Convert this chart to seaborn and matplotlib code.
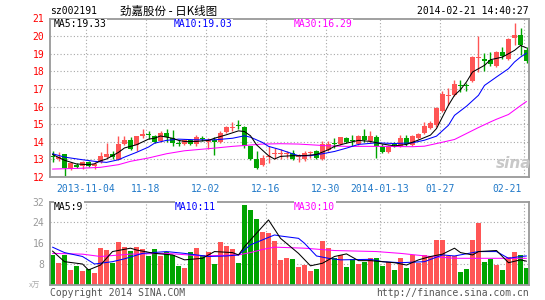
import numpy as np
import matplotlib
matplotlib.use("Agg")
import matplotlib.pyplot as plt
import seaborn as sns
from matplotlib.transforms import ScaledTranslation

# ---------------- data ----------------
opens = [13.20, 13.02, 13.30, 12.45, 12.70, 12.62, 12.85, 12.65, 12.85, 13.15,
         13.30, 12.98, 13.85, 14.10, 13.80, 14.30, 14.42, 14.35, 14.05, 14.50,
         14.20, 13.88, 13.90, 14.08, 13.85, 14.22, 13.98, 14.08, 13.98, 14.55,
         14.80, 14.95, 14.85, 13.75, 13.00, 12.70, 13.12, 13.30, 13.30, 13.30,
         13.35, 13.15, 13.02, 13.35, 13.48, 13.02, 13.55, 13.90, 13.90, 14.22,
         14.12, 13.85, 14.35, 14.05, 14.28, 13.72, 13.43, 13.90, 13.75, 14.22,
         13.80, 14.20, 14.50, 14.80, 14.95, 15.75, 16.60, 16.65, 17.22, 17.20,
         17.43, 18.77, 18.72, 18.66, 18.28, 19.10, 18.72, 19.90, 20.04, 19.23]
highs = [13.45, 13.40, 13.32, 12.88, 12.78, 12.92, 12.92, 12.88, 13.42, 13.95,
         13.45, 14.35, 14.35, 14.25, 14.35, 14.75, 14.60, 14.40, 14.60, 14.75,
         14.65, 14.10, 14.15, 14.15, 14.40, 14.35, 14.20, 14.28, 14.60, 14.92,
         15.10, 15.25, 14.92, 13.78, 13.45, 13.27, 13.75, 13.65, 13.60, 13.45,
         13.55, 13.28, 13.45, 13.48, 13.55, 14.05, 14.03, 14.22, 14.28, 14.28,
         14.40, 14.40, 14.72, 14.60, 14.40, 13.90, 13.80, 14.00, 14.38, 14.38,
         14.36, 14.50, 15.13, 15.20, 15.95, 16.90, 17.08, 17.53, 17.50, 17.35,
         18.85, 20.00, 19.04, 19.10, 19.15, 19.38, 19.90, 20.74, 20.47, 19.38]
lows = [12.85, 12.92, 12.05, 12.38, 12.52, 12.45, 12.57, 12.45, 12.80, 13.10,
        13.00, 12.95, 13.80, 13.55, 13.45, 14.20, 14.15, 13.95, 14.00, 14.00,
        13.75, 13.75, 13.80, 13.80, 13.75, 14.05, 13.60, 13.27, 13.95, 14.50,
        14.60, 14.70, 13.65, 12.95, 12.45, 12.60, 12.80, 13.00, 13.02, 13.07,
        12.95, 12.85, 12.90, 13.10, 13.00, 12.95, 13.45, 13.65, 13.80, 13.93,
        13.75, 13.80, 14.00, 13.95, 13.08, 13.38, 13.38, 13.72, 13.72, 13.75,
        13.75, 14.15, 14.45, 14.75, 14.85, 15.70, 16.08, 16.60, 16.83, 16.90,
        17.40, 17.95, 18.00, 18.28, 18.25, 18.72, 18.66, 19.47, 18.90, 18.47]
closes = [13.15, 13.15, 12.50, 12.80, 12.55, 12.85, 12.62, 12.75, 13.20, 13.30,
          13.13, 13.90, 14.10, 13.60, 14.35, 14.45, 14.38, 14.00, 14.50, 14.25,
          13.95, 13.86, 14.08, 13.85, 14.25, 14.18, 14.08, 13.98, 14.50, 14.85,
          14.85, 14.88, 13.75, 13.00, 12.50, 13.08, 13.20, 13.35, 13.34, 13.35,
          13.02, 13.18, 13.35, 13.42, 13.08, 13.85, 13.90, 13.85, 14.28, 13.98,
          14.03, 14.35, 14.12, 14.35, 13.75, 13.43, 13.75, 13.82, 14.22, 13.90,
          14.30, 14.47, 14.88, 15.05, 15.90, 16.70, 16.65, 17.30, 17.16, 17.15,
          18.80, 18.82, 18.58, 18.43, 19.10, 18.85, 19.85, 20.04, 19.47, 18.58]
volumes = [11.4, 8.4, 11.4, 5.6, 7.2, 5.3, 6.0, 4.6, 14.2, 13.3,
           8.4, 16.2, 14.6, 12.9, 14.6, 13.6, 11.1, 13.8, 10.8, 12.7,
           11.4, 7.2, 6.5, 12.7, 14.2, 11.4, 12.7, 7.9, 16.2, 14.9,
           13.6, 8.4, 30.7, 28.8, 25.3, 20.4, 19.8, 16.9, 9.5, 10.1,
           9.7, 6.6, 7.5, 5.2, 6.0, 16.8, 14.0, 10.1, 11.4, 6.9,
           9.7, 7.9, 8.8, 10.1, 10.1, 7.2, 8.8, 5.6, 10.1, 6.5,
           11.4, 8.2, 11.4, 11.0, 17.2, 17.2, 10.8, 11.0, 5.0, 6.0,
           17.2, 23.6, 8.8, 9.7, 7.5, 5.6, 10.5, 12.7, 11.5, 6.5]

# moving averages (index of day, value)
ma5_x = [0, 2, 4, 6, 7, 8, 9, 11, 12, 14, 16, 17, 18, 20, 21, 22, 24, 26, 27, 29,
         31, 32, 33, 34, 36, 37, 38, 40, 42, 44, 46, 47, 49, 51, 53, 55, 57, 59, 61,
         63, 64, 65, 66, 67, 68, 69, 70, 72, 73, 75, 77, 78, 79]
ma5_y = [13.28, 12.95, 12.74, 12.70, 12.75, 12.92, 13.02, 13.40, 13.65, 13.83, 14.15,
         14.20, 14.33, 14.20, 14.08, 14.02, 14.02, 14.08, 14.20, 14.40, 14.62, 14.58,
         14.34, 13.83, 13.21, 13.02, 13.17, 13.21, 13.21, 13.28, 13.55, 13.74, 13.92,
         14.08, 14.02, 13.87, 13.77, 13.85, 14.10, 14.38, 14.75, 15.42, 16.08, 16.64,
         16.96, 17.40, 17.96, 18.34, 18.66, 18.81, 19.19, 19.47, 19.33]
ma10_x = [0, 2, 5, 7, 9, 11, 12, 14, 16, 17, 19, 21, 24, 27, 30, 32, 33, 35, 36, 38,
          40, 41, 43, 45, 47, 49, 51, 54, 57, 60, 62, 64, 66, 67, 69, 71, 72, 74, 76,
          77, 78, 79]
ma10_y = [13.32, 13.13, 12.98, 12.89, 12.83, 12.98, 13.13, 13.40, 13.70, 13.92, 14.08,
          14.15, 14.11, 14.11, 14.20, 14.34, 14.26, 13.96, 13.74, 13.55, 13.32, 13.21,
          13.21, 13.32, 13.45, 13.64, 13.85, 13.94, 13.90, 13.94, 14.09, 14.32, 14.94,
          15.50, 16.02, 16.64, 17.20, 17.68, 18.15, 18.53, 18.81, 19.03]
ma30_x = [0, 5, 8, 11, 13, 16, 19, 22, 25, 27, 30, 32, 35, 38, 41, 43, 46, 49, 55,
          60, 62, 64, 67, 69, 71, 73, 74, 76, 77, 78, 79]
ma30_y = [12.45, 12.50, 12.55, 12.70, 12.89, 13.08, 13.32, 13.49, 13.58, 13.64, 13.74,
          13.79, 13.87, 13.89, 13.87, 13.83, 13.77, 13.74, 13.74, 13.72, 13.75, 13.90,
          14.13, 14.47, 14.81, 15.13, 15.28, 15.55, 15.80, 16.05, 16.29]

vma5_x = [0, 2, 5, 6, 8, 10, 13, 14, 17, 20, 22, 25, 27, 30, 31, 32, 36, 38, 41,
          43, 45, 47, 49, 51, 53, 55, 57, 59, 61, 63, 65, 67, 68, 70, 71, 74, 76, 78, 79]
vma5_y = [12.9, 8.8, 7.9, 5.6, 7.5, 12.7, 14.0, 13.3, 12.0, 11.4, 9.5, 10.1, 12.7,
          12.3, 11.4, 14.6, 24.9, 17.8, 12.0, 7.2, 8.2, 10.8, 11.8, 9.2, 9.2, 8.8,
          8.4, 7.5, 9.5, 10.8, 11.7, 14.0, 12.3, 11.4, 12.7, 13.1, 8.4, 9.5, 9.0]
vma10_x = [0, 2, 5, 7, 10, 12, 15, 19, 22, 26, 29, 31, 33, 37, 38, 41, 42, 44, 46,
           48, 53, 55, 58, 62, 65, 67, 71, 74, 76, 78, 79]
vma10_y = [14.4, 12.3, 10.8, 7.9, 8.8, 9.9, 12.0, 12.7, 12.0, 10.8, 11.0, 11.4, 15.3,
           19.1, 18.7, 17.8, 15.9, 11.0, 10.1, 9.5, 9.7, 8.8, 8.4, 8.8, 11.4, 11.0,
           12.7, 12.7, 10.1, 10.8, 11.0]
vma30_x = [0, 5, 8, 13, 19, 25, 31, 33, 35, 37, 42, 47, 54, 58, 63, 67, 79]
vma30_y = [12.0, 11.7, 10.8, 11.7, 12.0, 11.0, 11.4, 12.3, 13.5, 14.4, 14.0, 13.1,
           12.7, 12.0, 10.8, 10.1, 10.1]

date_labels = ["2013-11-04", "11-18", "12-02", "12-16", "12-30", "2014-01-13", "01-27", "02-21"]
date_idx = [6, 16, 26, 36, 46, 55, 65, 79]
price_ticks = [12, 13, 14, 15, 16, 17, 18, 19, 20, 21]
vol_ticks = [8, 16, 24, 32]

# ---------------- style ----------------
RED = "#FF5555"
GREEN = "#00A400"
GRID = "#A8A8A8"
FRAME = "#999999"
DATE_C = "#1F78C8"

sns.set_style("white")
plt.rcParams["font.family"] = ["DejaVu Sans Mono", "Noto Sans CJK SC"]
FS = 7.0
CJK = ["Noto Sans CJK SC", "DejaVu Sans"]
LW = 0.75

W, H = 545, 300
fig = plt.figure(figsize=(W / 100, H / 100), dpi=100)
fig.patch.set_facecolor("white")


def fx(px):
    return px / W


def fy(py):
    return 1 - py / H


ax1 = fig.add_axes([fx(50), fy(177), fx(479), (177 - 18.5) / H])
ax2 = fig.add_axes([fx(50), fy(284.5), fx(479), (284.5 - 201.5) / H])

n = len(closes)
idx = np.arange(n)
o = np.array(opens); c = np.array(closes); hi = np.array(highs); lo = np.array(lows)
up = c >= o
cols = np.where(up, RED, GREEN)
xmin, xmax = -2.5 / 6, 476.5 / 6

# ---- candles ----
ax1.vlines(idx, lo, hi, colors=cols, lw=1.0, zorder=2)
body_h = np.maximum(np.abs(c - o), 0.06)
ax1.bar(idx, body_h, bottom=np.minimum(o, c), width=0.8, color=cols, linewidth=0, zorder=2)

sns.lineplot(x=ma30_x, y=ma30_y, color="#FF00FF", lw=LW, ax=ax1, zorder=3)
sns.lineplot(x=ma10_x, y=ma10_y, color="#0000FF", lw=LW, ax=ax1, zorder=3)
sns.lineplot(x=ma5_x, y=ma5_y, color="black", lw=LW, ax=ax1, zorder=4)

# ---- volume ----
updown = np.where(up, "up", "down")
sns.barplot(x=idx, y=volumes, hue=updown, palette={"up": RED, "down": GREEN},
            native_scale=True, dodge=False, width=0.83, legend=False, errorbar=None,
            saturation=1, linewidth=0, ax=ax2, zorder=2)
sns.lineplot(x=vma30_x, y=vma30_y, color="#FF00FF", lw=LW, ax=ax2, zorder=3)
sns.lineplot(x=vma10_x, y=vma10_y, color="#0000FF", lw=LW, ax=ax2, zorder=3)
sns.lineplot(x=vma5_x, y=vma5_y, color="black", lw=LW, ax=ax2, zorder=4)

grid_x = [d - 2.5 / 6 for d in date_idx]
for ax, ylim, hticks in ((ax1, (12, 21), price_ticks[1:-1]), (ax2, (0, 32), vol_ticks[:-1])):
    ax.set_xlim(xmin, xmax)
    ax.set_ylim(*ylim)
    for gx in grid_x:
        ax.axvline(gx, color=GRID, lw=0.8, ls=(0, (1, 2)), zorder=1)
    for gy in hticks:
        ax.axhline(gy, color=GRID, lw=0.8, ls=(0, (1, 2)), zorder=1)
    for s in ax.spines.values():
        s.set_color(FRAME)
        s.set_linewidth(1.3)
        s.set_visible(True)
    ax.set_xlabel("")
    ax.set_ylabel("")
    ax.set_facecolor("white")

ax1.set_yticks(price_ticks)
ax1.set_yticklabels([str(t) for t in price_ticks])
ax1.tick_params(axis="y", length=0, pad=4, labelcolor="#FF0000", labelsize=FS)
ax1.set_xticks(grid_x)
ax1.set_xticklabels(date_labels)
ax1.tick_params(axis="x", length=0, pad=5, labelcolor=DATE_C, labelsize=FS)
last = ax1.get_xticklabels()[-1]
last.set_transform(last.get_transform() + ScaledTranslation(-17 / 100, 0, fig.dpi_scale_trans))

ax2.set_yticks(vol_ticks)
ax2.set_yticklabels([str(t) for t in vol_ticks])
ax2.tick_params(axis="y", length=0, pad=4, labelcolor="#999999", labelsize=FS)
ax2.set_xticks([])

# ---- texts ----
bb = dict(facecolor="white", edgecolor="none", pad=0.3)
fig.text(fx(50), fy(11.5), "sz002191", fontsize=FS, va="center", ha="left", color="black")
fig.text(fx(120), fy(11), "劲嘉股份 - 日K线图", fontsize=8.3, va="center", ha="left",
         color="black", family=CJK)
fig.text(fx(529), fy(11.5), "2014-02-21 14:40:27", fontsize=FS, va="center", ha="right",
         color="black")
fig.text(fx(54), fy(24), "MA5:19.33", fontsize=FS, va="center", color="black", bbox=bb)
fig.text(fx(174), fy(24), "MA10:19.03", fontsize=FS, va="center", color="#0000FF", bbox=bb)
fig.text(fx(294), fy(24), "MA30:16.29", fontsize=FS, va="center", color="#FF00FF", bbox=bb)
fig.text(fx(54), fy(206.5), "MA5:9", fontsize=FS, va="center", color="black", bbox=bb)
fig.text(fx(175), fy(206.5), "MA10:11", fontsize=FS, va="center", color="#0000FF", bbox=bb)
fig.text(fx(294), fy(206.5), "MA30:10", fontsize=FS, va="center", color="#FF00FF", bbox=bb)
fig.text(fx(50), fy(292.5), "Copyright 2014 SINA.COM", fontsize=FS, va="center", ha="left",
         color="#555555")
fig.text(fx(529), fy(292.5), "http://finance.sina.com.cn", fontsize=FS, va="center",
         ha="right", color="#555555")
fig.text(fx(29), fy(286), "x万", fontsize=5.5, va="center", ha="left", color="#AAAAAA",
         family=CJK)
fig.text(fx(496), fy(164), "sina", fontsize=11, va="center", ha="left", color="#C8C8C8",
         family=["DejaVu Sans"], style="italic", fontweight="bold", zorder=0)

fig.savefig("out.png", dpi=100, facecolor="white")
